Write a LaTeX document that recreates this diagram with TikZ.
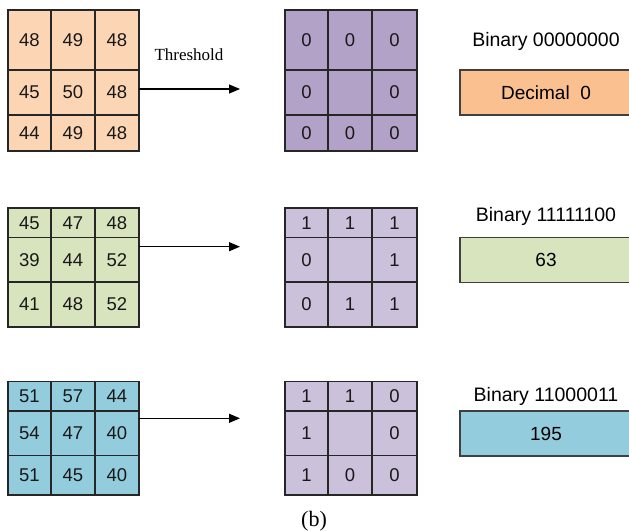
\documentclass[tikz,border=0pt]{standalone}
\usepackage{fontspec}
\setmainfont{Liberation Sans}
\newfontfamily\serifx{Liberation Serif}
\usetikzlibrary{arrows.meta}
\definecolor{peach}{HTML}{FCD5B5}
\definecolor{purpdark}{HTML}{B3A2C7}
\definecolor{purplight}{HTML}{CCC1DA}
\definecolor{orangebox}{HTML}{FAC090}
\definecolor{greenc}{HTML}{D7E4BD}
\definecolor{bluec}{HTML}{93CDDD}
\definecolor{gridline}{HTML}{262626}
\definecolor{boxline}{HTML}{404040}
\tikzset{
  cellbox/.style={draw=gridline, line width=1.3pt, inner sep=0pt, outer sep=0pt,
    font=\fontsize{18.5}{20}\selectfont, text=black!90},
  decbox/.style={draw=boxline, line width=1.2pt, inner sep=0pt, outer sep=0pt,
    anchor=north west, minimum width=172pt, minimum height=45pt,
    font=\fontsize{19}{21}\selectfont},
  binlabel/.style={anchor=base, inner sep=0pt, font=\fontsize{19.5}{22}\selectfont},
  arrowline/.style={line width=1.2pt, -{Triangle[length=11pt,width=9pt]}},
}
\newcommand\cellnode[7]{\node[cellbox,#6,anchor=north west,minimum width={(#4-#2)*1pt},minimum height={(#5-#3)*1pt}] (#1) at (#2,#3) {#7};}
\newcommand\leftrow[7]{%
  \cellnode{#1-1}{8}{#2}{51}{#3}{#4}{#5}%
  \cellnode{#1-2}{51}{#2}{95}{#3}{#4}{#6}%
  \cellnode{#1-3}{95}{#2}{139}{#3}{#4}{#7}}
\newcommand\rightrow[7]{%
  \cellnode{#1-1}{285}{#2}{328}{#3}{#4}{#5}%
  \cellnode{#1-2}{328}{#2}{372}{#3}{#4}{#6}%
  \cellnode{#1-3}{372}{#2}{417}{#3}{#4}{#7}}
\begin{document}
\begin{tikzpicture}[x=1pt,y=-1pt]
\useasboundingbox[fill=white] (0,0) rectangle (629,530);
% ---- row 1
\leftrow{g1a}{10}{70}{fill=peach}{48}{49}{48}
\leftrow{g1b}{70}{115}{fill=peach}{45}{50}{48}
\leftrow{g1c}{115}{151}{fill=peach}{44}{49}{48}
\rightrow{p1a}{10}{70}{fill=purpdark}{0}{0}{0}
\rightrow{p1b}{70}{115}{fill=purpdark}{0}{}{0}
\rightrow{p1c}{115}{151}{fill=purpdark}{0}{0}{0}
\node[font=\serifx\fontsize{17}{19}\selectfont, anchor=base, inner sep=0pt] (thr) at (189,60.5) {Threshold};
\coordinate (e1) at (240,89);
\draw[arrowline] (g1b-3.east |- e1) -- (e1);
\node[binlabel] (b1) at (546,46.7) {Binary 00000000};
\node[decbox, fill=orangebox] (d1) at (460,70) {Decimal\ \ 0};
% ---- row 2
\leftrow{g2a}{208}{237.5}{fill=greenc}{45}{47}{48}
\leftrow{g2b}{237.5}{282}{fill=greenc}{39}{44}{52}
\leftrow{g2c}{282}{327}{fill=greenc}{41}{48}{52}
\rightrow{p2a}{208}{237.5}{fill=purplight}{1}{1}{1}
\rightrow{p2b}{237.5}{282}{fill=purplight}{0}{}{1}
\rightrow{p2c}{282}{327}{fill=purplight}{0}{1}{1}
\coordinate (e2) at (240,246.7);
\draw[arrowline] (g2b-3.east |- e2) -- (e2);
\node[binlabel] (b2) at (546,221.7) {Binary 11111100};
\node[decbox, fill=greenc] (d2) at (460,237.5) {63};
% ---- row 3
\leftrow{g3a}{381.5}{411}{fill=bluec}{51}{57}{44}
\leftrow{g3b}{411}{455.5}{fill=bluec}{54}{47}{40}
\leftrow{g3c}{455.5}{495}{fill=bluec}{51}{45}{40}
\rightrow{p3a}{381.5}{411}{fill=purplight}{1}{1}{0}
\rightrow{p3b}{411}{455.5}{fill=purplight}{1}{}{0}
\rightrow{p3c}{455.5}{495}{fill=purplight}{1}{0}{0}
\coordinate (e3) at (240,418.3);
\draw[arrowline] (g3b-3.east |- e3) -- (e3);
\node[binlabel] (b3) at (546,401.7) {Binary 11000011};
\node[decbox, fill=bluec] (d3) at (460,411) {195};
% ---- caption
\node[font=\serifx\fontsize{22}{24}\selectfont, anchor=base, inner sep=0pt] (cap) at (314,526) {(b)};
\end{tikzpicture}
\end{document}
